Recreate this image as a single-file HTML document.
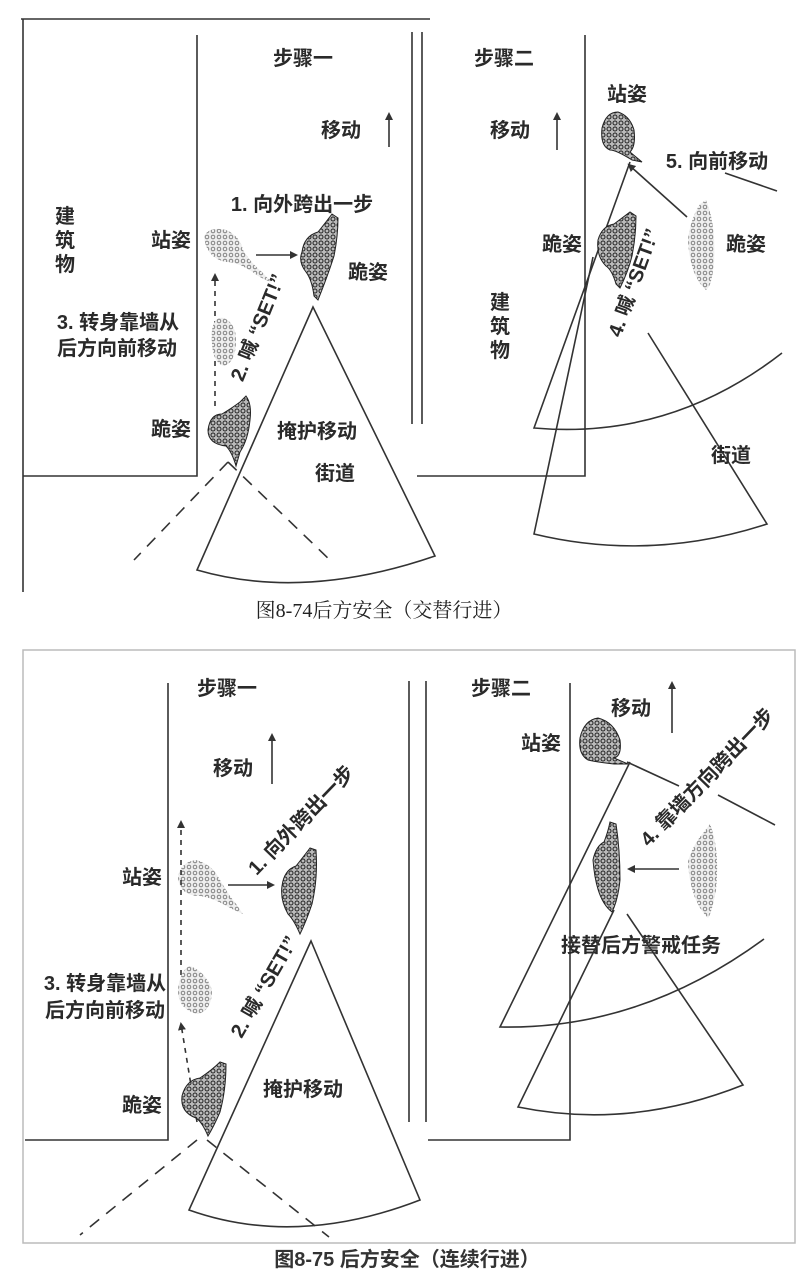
<!DOCTYPE html>
<html><head><meta charset="utf-8"><style>
html,body{margin:0;padding:0;background:#fff;}
svg{display:block;}
.t{font-family:"Liberation Sans","Noto Sans CJK SC",sans-serif;font-weight:bold;font-size:20px;fill:#2a2a2a;}
.c1{font-family:"Liberation Serif","Noto Serif CJK SC",serif;font-size:20px;fill:#222;}
.c2{font-family:"Liberation Sans","Noto Sans CJK SC",sans-serif;font-weight:bold;font-size:20px;fill:#333;}
.l{stroke:#333;stroke-width:1.6;fill:none;}
.d{stroke:#333;stroke-width:1.6;fill:none;stroke-dasharray:12 9;}
.sd{stroke:#333;stroke-width:1.6;fill:none;stroke-dasharray:5 5;}
</style></head><body>
<svg width="808" height="1272" viewBox="0 0 808 1272" xmlns="http://www.w3.org/2000/svg">
<defs>
<pattern id="pd" width="6" height="6" patternUnits="userSpaceOnUse">
<rect width="6" height="6" fill="#bbb"/><circle cx="3" cy="3" r="2" fill="none" stroke="#222" stroke-width="1"/></pattern>
<pattern id="pl" width="6" height="6" patternUnits="userSpaceOnUse">
<rect width="6" height="6" fill="#eee"/><circle cx="3" cy="3" r="1.8" fill="none" stroke="#777" stroke-width="0.9"/></pattern>
<marker id="ah" markerWidth="8" markerHeight="8" refX="6" refY="4" orient="auto" markerUnits="userSpaceOnUse"><path d="M0,0 L8,4 L0,8 z" fill="#333"/></marker>
</defs>
<rect width="808" height="1272" fill="#fff"/>

<!-- ===== TOP FIGURE ===== -->
<path class="l" d="M21 19 H430" stroke="#bbb"/>
<path class="l" d="M23 19 V592" stroke="#aaa"/>
<path class="l" d="M197 35 V476 H23"/>
<path class="l" d="M412 32 V424 M422 32 V424"/>
<path class="l" d="M585 35 V476 H417"/>

<text class="t" x="303" y="65" text-anchor="middle">步骤一</text>
<text class="t" x="504" y="65" text-anchor="middle">步骤二</text>
<text class="t" x="341" y="137" text-anchor="middle">移动</text>
<path class="l" d="M389 147 V114" marker-end="url(#ah)"/>
<text class="t" x="510" y="137" text-anchor="middle">移动</text>
<path class="l" d="M557 150 V114" marker-end="url(#ah)"/>

<text class="t" x="65" y="223" text-anchor="middle">建</text>
<text class="t" x="65" y="247" text-anchor="middle">筑</text>
<text class="t" x="65" y="271" text-anchor="middle">物</text>
<text class="t" x="302" y="211" text-anchor="middle">1. 向外跨出一步</text>
<text class="t" x="171" y="247" text-anchor="middle">站姿</text>
<text class="t" x="368" y="279" text-anchor="middle">跪姿</text>
<text class="t" x="118" y="329" text-anchor="middle">3. 转身靠墙从</text>
<text class="t" x="117" y="355" text-anchor="middle">后方向前移动</text>
<text class="t" x="171" y="436" text-anchor="middle">跪姿</text>
<text class="t" x="317" y="438" text-anchor="middle">掩护移动</text>
<text class="t" x="335" y="480" text-anchor="middle">街道</text>
<text class="t" transform="translate(264,330) rotate(-68)" text-anchor="middle">2. 喊 “SET!”</text>

<path d="M204 236 Q210 226 226 230 Q240 236 243 250 Q250 262 262 272 L272 283 L258 276 Q240 262 226 262 Q206 258 204 236 Z" fill="url(#pl)"/>
<path class="l" d="M256 255 H296" marker-end="url(#ah)"/>
<path d="M302 252 Q304 236 318 232 Q326 222 332 214 L338 218 Q338 236 334 256 Q328 275 318 300 L314 296 Q312 280 306 272 Q298 262 302 252 Z" fill="url(#pd)" stroke="#222" stroke-width="1"/>
<path class="sd" d="M215 406 V275" marker-end="url(#ah)"/>
<path d="M212 330 Q214 316 224 318 Q236 324 236 340 Q236 362 224 366 Q210 362 212 330 Z" fill="url(#pl)"/>
<path d="M208 430 Q210 414 222 414 Q232 408 240 402 L246 396 Q252 404 250 420 Q248 440 240 452 L236 466 Q232 452 226 446 Q208 444 208 430 Z" fill="url(#pd)" stroke="#222" stroke-width="1"/>

<path class="l" d="M313 307 L197 570 Q304 601 435 556 Z"/>
<path class="d" d="M228 462 L134 560 M228 462 L332 562"/>

<text class="t" x="627" y="101" text-anchor="middle">站姿</text>
<path d="M602 128 Q606 112 618 112 Q630 116 634 130 Q636 146 630 152 L642 162 L632 160 Q616 150 610 150 Q600 146 602 128 Z" fill="url(#pd)" stroke="#222" stroke-width="1"/>
<text class="t" x="717" y="168" text-anchor="middle">5. 向前移动</text>
<path class="l" d="M687 217 L629 165" marker-end="url(#ah)"/>
<path class="l" d="M630 162 L534 428 Q670 440 782 353"/>
<path class="l" d="M725 173 L777 191"/>
<text class="t" x="562" y="251" text-anchor="middle">跪姿</text>
<text class="t" x="746" y="251" text-anchor="middle">跪姿</text>
<path d="M598 240 Q602 226 614 224 Q622 218 630 212 L636 216 Q636 236 632 256 Q628 272 620 288 L616 284 Q612 270 606 266 Q596 256 598 240 Z" fill="url(#pd)" stroke="#222" stroke-width="1"/>
<path d="M688 240 Q690 220 700 204 L706 200 Q716 224 714 262 Q712 286 706 290 Q690 276 688 240 Z" fill="url(#pl)"/>
<text class="t" transform="translate(640,285) rotate(-70)" text-anchor="middle">4. 喊 “SET!”</text>
<text class="t" x="500" y="309" text-anchor="middle">建</text>
<text class="t" x="500" y="333" text-anchor="middle">筑</text>
<text class="t" x="500" y="357" text-anchor="middle">物</text>
<path class="l" d="M593 257 L534 534 Q650 562 767 524 L648 333"/>
<text class="t" x="731" y="462" text-anchor="middle">街道</text>

<text class="c1" x="384" y="617" text-anchor="middle">图8-74后方安全（交替行进）</text>

<!-- ===== BOTTOM FIGURE ===== -->
<rect x="23" y="650" width="772" height="593" fill="none" stroke="#bbb" stroke-width="1.5"/>
<path class="l" d="M168 683 V1140 H25"/>
<path class="l" d="M409 681 V1122 M426 681 V1122"/>
<path class="l" d="M570 683 V1140 H428"/>

<text class="t" x="227" y="695" text-anchor="middle">步骤一</text>
<text class="t" x="501" y="695" text-anchor="middle">步骤二</text>
<text class="t" x="233" y="775" text-anchor="middle">移动</text>
<path class="l" d="M272 784 V735" marker-end="url(#ah)"/>
<text class="t" x="631" y="715" text-anchor="middle">移动</text>
<path class="l" d="M672 733 V683" marker-end="url(#ah)"/>
<text class="t" x="541" y="750" text-anchor="middle">站姿</text>
<path d="M580 738 Q584 720 598 718 Q614 722 620 740 Q622 756 614 758 L628 764 L614 764 Q596 762 588 760 Q578 754 580 738 Z" fill="url(#pd)" stroke="#222" stroke-width="1"/>
<path class="l" d="M630 762 L500 1027 Q640 1030 764 939"/>
<path class="l" d="M627 762 L679 786 M718 795 L775 825"/>
<text class="t" transform="translate(712,782) rotate(-46)" text-anchor="middle">4. 靠墙方向跨出一步</text>
<path d="M593 860 Q596 846 604 842 Q608 832 610 822 L616 824 Q620 850 620 880 Q618 900 612 912 Q596 900 593 860 Z" fill="url(#pd)" stroke="#222" stroke-width="1"/>
<path class="l" d="M679 869 L629 869" marker-end="url(#ah)"/>
<path d="M688 862 Q692 846 704 832 L710 824 Q720 850 716 890 Q712 912 708 918 Q690 900 688 862 Z" fill="url(#pl)"/>
<text class="t" x="641" y="952" text-anchor="middle">接替后方警戒任务</text>
<path class="l" d="M614 910 L518 1107 Q630 1130 743 1085 L627 914"/>

<text class="t" x="142" y="884" text-anchor="middle">站姿</text>
<path d="M178 878 Q180 862 196 860 Q212 864 220 880 Q228 894 236 904 L243 914 L230 908 Q214 898 200 896 Q180 896 178 878 Z" fill="url(#pl)"/>
<path class="l" d="M228 885 H273" marker-end="url(#ah)"/>
<text class="t" transform="translate(306,825) rotate(-46)" text-anchor="middle">1. 向外跨出一步</text>
<path d="M282 886 Q284 870 296 866 Q304 856 310 848 L316 850 Q318 878 312 904 Q306 922 300 934 Q294 920 288 914 Q280 900 282 886 Z" fill="url(#pd)" stroke="#222" stroke-width="1"/>
<path class="sd" d="M181 975 V822" marker-end="url(#ah)"/>
<path class="sd" d="M197 1122 L181 1024" marker-end="url(#ah)"/>
<path d="M178 990 Q180 970 190 966 Q206 972 212 990 Q212 1010 198 1014 Q178 1010 178 990 Z" fill="url(#pl)"/>
<text class="t" x="105" y="990" text-anchor="middle">3. 转身靠墙从</text>
<text class="t" x="105" y="1017" text-anchor="middle">后方向前移动</text>
<text class="t" transform="translate(270,990) rotate(-60)" text-anchor="middle">2. 喊 “SET!”</text>
<path d="M182 1096 Q186 1080 200 1078 Q212 1070 220 1062 L226 1064 Q226 1090 220 1112 Q214 1126 208 1136 Q202 1122 196 1118 Q180 1112 182 1096 Z" fill="url(#pd)" stroke="#222" stroke-width="1"/>
<text class="t" x="142" y="1112" text-anchor="middle">跪姿</text>
<text class="t" x="303" y="1096" text-anchor="middle">掩护移动</text>
<path class="l" d="M311 941 L189 1210 Q296 1248 420 1200 Z"/>
<path class="d" d="M197 1140 L80 1235 M207 1140 L329 1237"/>

<text class="c2" x="407" y="1266" text-anchor="middle">图8-75 后方安全（连续行进）</text>
</svg>
</body></html>
